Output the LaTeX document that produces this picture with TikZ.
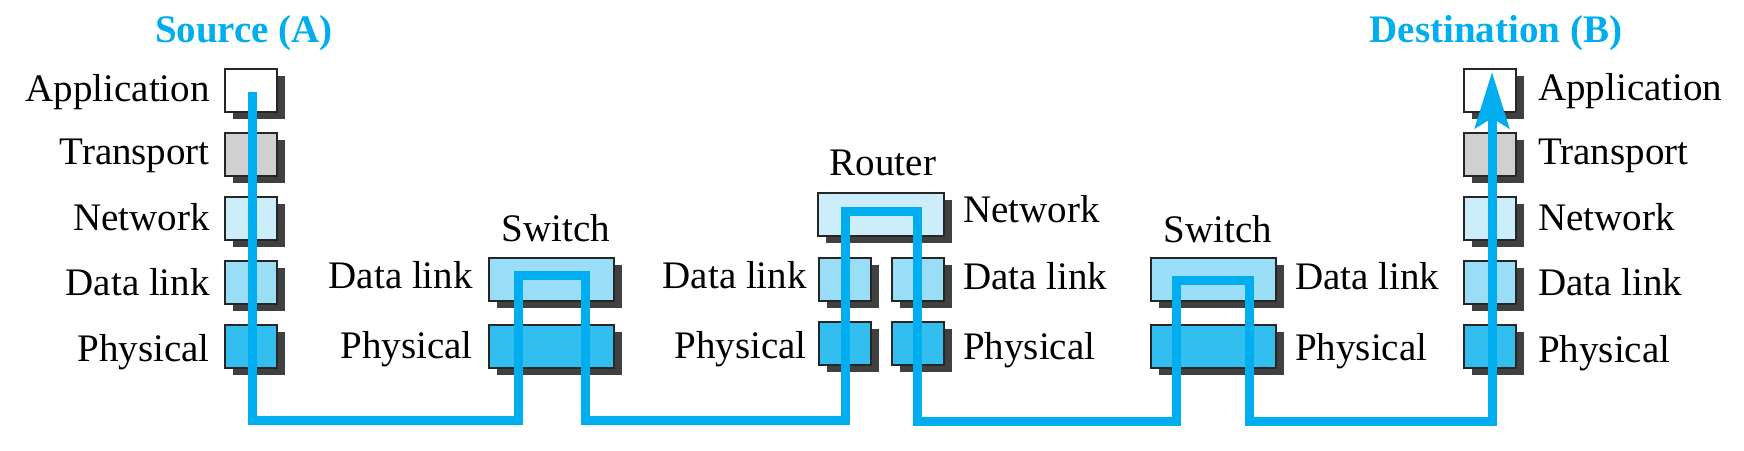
\documentclass[tikz,border=0pt]{standalone}
\usepackage{fontspec}
\setmainfont{Liberation Serif}
\usetikzlibrary{arrows.meta,shadows}
\definecolor{lineblue}{RGB}{0,174,239}
\definecolor{trc}{RGB}{208,208,208}
\definecolor{netc}{RGB}{204,238,250}
\definecolor{dlc}{RGB}{153,222,246}
\definecolor{phc}{RGB}{51,190,240}
\definecolor{shade}{RGB}{64,64,64}
\begin{document}
\begin{tikzpicture}[x=1pt,y=-1pt,
  layer/.style={draw=black!85, line width=2pt, inner sep=0pt, minimum height=43pt,
    drop shadow={shadow xshift=8pt, shadow yshift=-7pt, fill=shade, opacity=1}},
  small/.style={layer, minimum width=52pt},
  wide/.style={layer, minimum width=125pt},
  lbl/.style={font=\fontsize{39}{47}\selectfont, inner sep=0pt},
  ttl/.style={font=\fontsize{39}{47}\selectfont\bfseries, text=lineblue, inner sep=0pt},
  flow/.style={draw=lineblue, line width=9pt}
]
\useasboundingbox (0,0) rectangle (1744,450);

% Source stack
\node[small, fill=white] (sApp) at (251,90.5) {};
\node[small, fill=trc]   (sTr)  at (251,154) {};
\node[small, fill=netc]  (sNet) at (251,218) {};
\node[small, fill=dlc]   (sDL)  at (251,282) {};
\node[small, fill=phc]   (sPh)  at (251,346.5) {};
\node[ttl, anchor=base] (tSrc) at (244,42) {Source (A)};
\node[lbl, anchor=base east] (lsApp) at (210,101) {Application};
\node[lbl, anchor=base east] (lsTr)  at (210,164) {Transport};
\node[lbl, anchor=base east] (lsNet) at (210,230) {Network};
\node[lbl, anchor=base east] (lsDL)  at (210,295) {Data link};
\node[lbl, anchor=base east] (lsPh)  at (210,361) {Physical};

% Switch 1
\node[wide, fill=dlc] (w1DL) at (551,279) {};
\node[wide, fill=phc] (w1Ph) at (551,346) {};
\node[lbl, anchor=base] (tW1) at (556,241) {Switch};
\node[lbl, anchor=base east] (lw1DL) at (473,288) {Data link};
\node[lbl, anchor=base east] (lw1Ph) at (473,358) {Physical};

% Router
\node[wide, fill=netc, minimum width=126pt] (rNet) at (881,214.5) {};
\node[small, fill=dlc] (rDLa) at (845,279) {};
\node[small, fill=dlc] (rDLb) at (918,279) {};
\node[small, fill=phc] (rPha) at (845,343.5) {};
\node[small, fill=phc] (rPhb) at (918,343.5) {};
\node[lbl, anchor=base] (tR) at (883,175) {Router};
\node[lbl, anchor=base east] (lrDL) at (807,288) {Data link};
\node[lbl, anchor=base east] (lrPh) at (807,358) {Physical};
\node[lbl, anchor=base west] (lrNet) at (963,222) {Network};
\node[lbl, anchor=base west] (lrDL2) at (963,289) {Data link};
\node[lbl, anchor=base west] (lrPh2) at (963,359) {Physical};

% Switch 2
\node[wide, fill=dlc] (w2DL) at (1213.5,279) {};
\node[wide, fill=phc] (w2Ph) at (1213.5,346) {};
\node[lbl, anchor=base] (tW2) at (1218,242) {Switch};
\node[lbl, anchor=base west] (lw2DL) at (1295,289) {Data link};
\node[lbl, anchor=base west] (lw2Ph) at (1295,360) {Physical};

% Destination stack
\node[small, fill=white] (dApp) at (1490,90.5) {};
\node[small, fill=trc]   (dTr)  at (1490,154) {};
\node[small, fill=netc]  (dNet) at (1490,218) {};
\node[small, fill=dlc]   (dDL)  at (1490,282) {};
\node[small, fill=phc]   (dPh)  at (1490,346.5) {};
\node[ttl, anchor=base] (tDst) at (1496,42) {Destination (B)};
\node[lbl, anchor=base west] (ldApp) at (1538,100) {Application};
\node[lbl, anchor=base west] (ldTr)  at (1538,164) {Transport};
\node[lbl, anchor=base west] (ldNet) at (1538,230) {Network};
\node[lbl, anchor=base west] (ldDL)  at (1538,295) {Data link};
\node[lbl, anchor=base west] (ldPh)  at (1538,362) {Physical};

% Flow path
\coordinate (pStart) at (252,92);
\coordinate (pEnd) at (1492,72);
\draw[flow, -{Stealth[length=56pt,width=34pt,inset=10pt]}]
  (pStart) -- (252,420) -- (518.5,420) -- (518.5,275) -- (585.5,275) -- (585.5,420)
  -- (845,420) -- (845,211.5) -- (917,211.5) -- (917,421) -- (1176.5,421)
  -- (1176.5,280) -- (1249.5,280) -- (1249.5,421) -- (1492,421) -- (pEnd);
\end{tikzpicture}
\end{document}
